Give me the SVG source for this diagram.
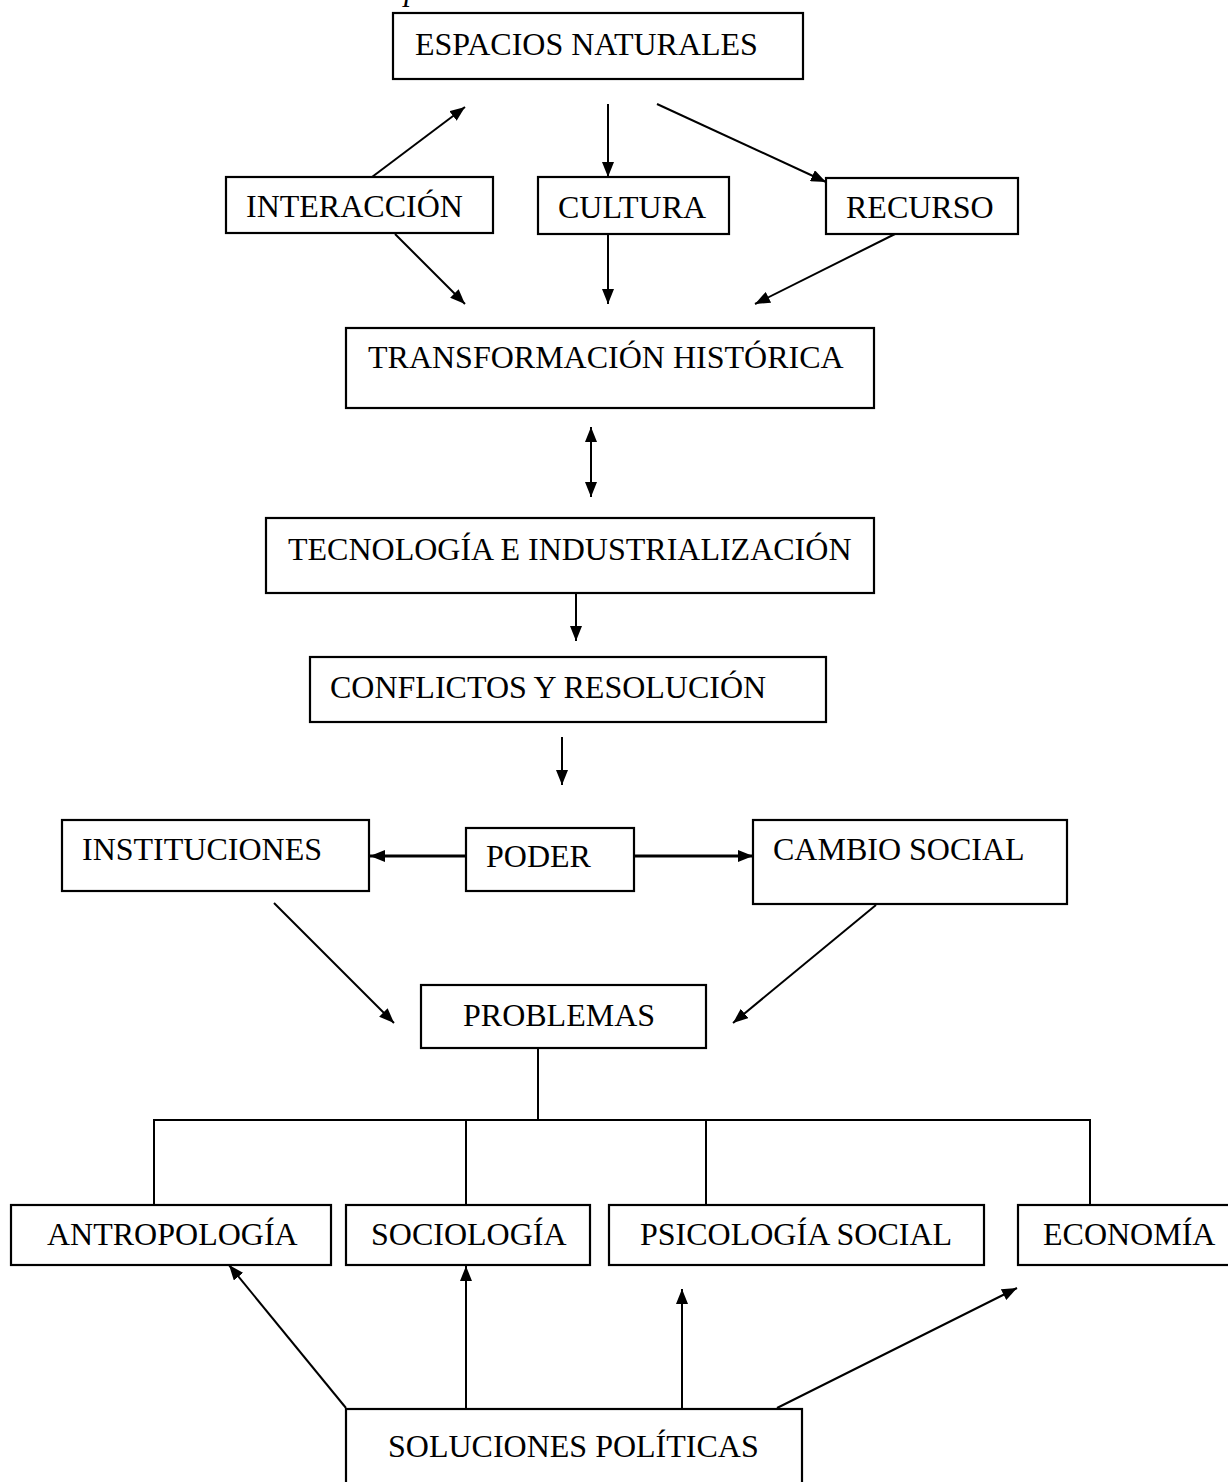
<svg xmlns="http://www.w3.org/2000/svg" width="1228" height="1482" viewBox="0 0 1228 1482">
<style>
.box{fill:#fff;stroke:#000;stroke-width:2.2}
.t{font-family:"Liberation Serif","Times New Roman",serif;font-size:32px;fill:#000}
.c{stroke:#000;stroke-width:2;fill:none}
.thick{stroke-width:2.8}
</style>
<defs>
<marker id="ah" markerUnits="userSpaceOnUse" markerWidth="16" markerHeight="12" refX="15" refY="6" orient="auto-start-reverse">
<path d="M0,0 L15,6 L0,12 z" fill="#000"/>
</marker>
</defs>
<rect width="1228" height="1482" fill="#fff"/>
<text class="t" x="404" y="0" font-style="italic">p</text>

<g id="connectors">
<line class="c" x1="372" y1="177" x2="465" y2="107" marker-end="url(#ah)"/>
<line class="c" x1="608" y1="104" x2="608" y2="177" marker-end="url(#ah)"/>
<line class="c" x1="657" y1="104" x2="826" y2="182" marker-end="url(#ah)"/>
<line class="c" x1="395" y1="234" x2="465" y2="304" marker-end="url(#ah)"/>
<line class="c" x1="608" y1="234" x2="608" y2="304" marker-end="url(#ah)"/>
<line class="c" x1="899" y1="232" x2="755" y2="304" marker-end="url(#ah)"/>
<line class="c" x1="591" y1="427" x2="591" y2="497" marker-start="url(#ah)" marker-end="url(#ah)"/>
<line class="c" x1="576" y1="593" x2="576" y2="641" marker-end="url(#ah)"/>
<line class="c" x1="562" y1="737" x2="562" y2="785" marker-end="url(#ah)"/>
<line class="c thick" x1="466" y1="856" x2="370" y2="856" marker-end="url(#ah)"/>
<line class="c thick" x1="634" y1="856" x2="753" y2="856" marker-end="url(#ah)"/>
<line class="c" x1="274" y1="903" x2="394" y2="1023" marker-end="url(#ah)"/>
<line class="c" x1="876" y1="905" x2="733" y2="1023" marker-end="url(#ah)"/>
<polyline class="c" points="538,1048 538,1120"/>
<polyline class="c" points="154,1205 154,1120 1090,1120 1090,1205"/>
<line class="c" x1="466" y1="1120" x2="466" y2="1205"/>
<line class="c" x1="706" y1="1120" x2="706" y2="1205"/>
<line class="c" x1="346" y1="1408" x2="229" y2="1265" marker-end="url(#ah)"/>
<line class="c" x1="466" y1="1408" x2="466" y2="1266" marker-end="url(#ah)"/>
<line class="c" x1="682" y1="1408" x2="682" y2="1289" marker-end="url(#ah)"/>
<line class="c" x1="777" y1="1408" x2="1017" y2="1288" marker-end="url(#ah)"/>
</g>

<g id="espacios"><rect class="box" x="393" y="13" width="410" height="66"/><text class="t" x="415" y="55">ESPACIOS NATURALES</text></g>
<g id="interaccion"><rect class="box" x="226" y="177" width="267" height="56"/><text class="t" x="246" y="217">INTERACCIÓN</text></g>
<g id="cultura"><rect class="box" x="538" y="177" width="191" height="57"/><text class="t" x="558" y="218">CULTURA</text></g>
<g id="recurso"><rect class="box" x="826" y="178" width="192" height="56"/><text class="t" x="846" y="218">RECURSO</text></g>
<g id="transformacion"><rect class="box" x="346" y="328" width="528" height="80"/><text class="t" x="368" y="368">TRANSFORMACIÓN HISTÓRICA</text></g>
<g id="tecnologia"><rect class="box" x="266" y="518" width="608" height="75"/><text class="t" x="288" y="560">TECNOLOGÍA E INDUSTRIALIZACIÓN</text></g>
<g id="conflictos"><rect class="box" x="310" y="657" width="516" height="65"/><text class="t" x="330" y="698">CONFLICTOS Y RESOLUCIÓN</text></g>
<g id="instituciones"><rect class="box" x="62" y="820" width="307" height="71"/><text class="t" x="82" y="860">INSTITUCIONES</text></g>
<g id="poder"><rect class="box" x="466" y="828" width="168" height="63"/><text class="t" x="486" y="867">PODER</text></g>
<g id="cambio"><rect class="box" x="753" y="820" width="314" height="84"/><text class="t" x="773" y="860">CAMBIO SOCIAL</text></g>
<g id="problemas"><rect class="box" x="421" y="985" width="285" height="63"/><text class="t" x="463" y="1026">PROBLEMAS</text></g>
<g id="antropologia"><rect class="box" x="11" y="1205" width="320" height="60"/><text class="t" x="47" y="1245">ANTROPOLOGÍA</text></g>
<g id="sociologia"><rect class="box" x="346" y="1205" width="244" height="60"/><text class="t" x="371" y="1245">SOCIOLOGÍA</text></g>
<g id="psicologia"><rect class="box" x="609" y="1205" width="375" height="60"/><text class="t" x="640" y="1245">PSICOLOGÍA SOCIAL</text></g>
<g id="economia"><rect class="box" x="1018" y="1205" width="220" height="60"/><text class="t" x="1043" y="1245">ECONOMÍA</text></g>
<g id="soluciones"><rect class="box" x="346" y="1409" width="456" height="100"/><text class="t" x="388" y="1457">SOLUCIONES POLÍTICAS</text></g>
</svg>
